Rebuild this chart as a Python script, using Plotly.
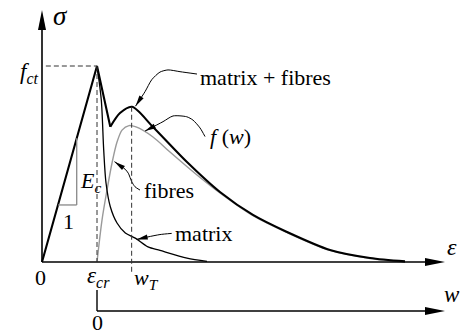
import numpy as np
import plotly.graph_objects as go

# strain in units of eps_cr, stress in units of f_ct
total_x = [0, 1.0, 1.242, 1.418, 1.636, 2.018, 2.636, 3.236, 3.836, 4.455, 5.236, 5.964, 6.6]
total_y = [0, 1.0, 0.690, 0.760, 0.792, 0.689, 0.510, 0.357, 0.240, 0.153, 0.061, 0.020, 0.003]

matrix_x = [1.0, 1.078, 1.122, 1.164, 1.242, 1.364, 1.515, 1.696, 1.927, 2.145, 2.636, 3.0]
matrix_y = [1.0, 0.827, 0.571, 0.403, 0.282, 0.199, 0.148, 0.122, 0.077, 0.059, 0.020, 0.003]

fibres_x = [1.0, 1.091, 1.182, 1.273, 1.364, 1.455, 1.582, 1.709, 2.018, 2.327, 2.818,
            3.236, 3.836, 4.455, 5.236, 5.964, 6.6]
fibres_y = [0.0, 0.214, 0.367, 0.505, 0.612, 0.673, 0.696, 0.689, 0.638, 0.561, 0.444,
            0.352, 0.236, 0.150, 0.059, 0.018, 0.0]

eps_cr = 1.0
w_T = 1.63
f_ct = 1.0

SX, SY = 55.0, 196.0  # pixels per data unit
FONT = "Liberation Serif, Times New Roman, serif"
W, H = 460, 334
OX, OY = 42, 262  # origin in figure pixels


def head(tip, frm, length=11, width=5):
    # filled narrow arrowhead, sized in pixels
    vx = (tip[0] - frm[0]) * SX
    vy = (tip[1] - frm[1]) * SY
    n = np.hypot(vx, vy)
    ux, uy = vx / n, vy / n
    bx, by = -ux * length, -uy * length
    qx, qy = -uy * width / 2, ux * width / 2
    pts = [(0, 0), (bx + qx, by + qy), (bx - qx, by - qy)]
    path = "M" + " L".join(f"{tip[0] + a / SX:.4f},{tip[1] + b / SY:.4f}" for a, b in pts) + " Z"
    return dict(type="path", path=path, xref="x", yref="y",
                fillcolor="black", line=dict(width=0), layer="above")


def seg(x0, y0, x1, y1, color="black", width=1.5, dash=None):
    return dict(type="line", x0=x0, y0=y0, x1=x1, y1=y1, xref="x", yref="y",
                line=dict(color=color, width=width, dash=dash))


fig = go.Figure()

fig.add_trace(go.Scatter(x=fibres_x, y=fibres_y, mode="lines",
                         line=dict(color="#9a9a9a", width=1.4, shape="spline", smoothing=0.8)))
fig.add_trace(go.Scatter(x=matrix_x, y=matrix_y, mode="lines",
                         line=dict(color="black", width=1.3, shape="spline", smoothing=0.8)))
fig.add_trace(go.Scatter(x=total_x[:3], y=total_y[:3], mode="lines",
                         line=dict(color="black", width=2.1)))
fig.add_trace(go.Scatter(x=total_x[2:], y=total_y[2:], mode="lines",
                         line=dict(color="black", width=2.1, shape="spline", smoothing=0.8)))

# leader lines
leaders = [
    ([2.818, 2.509, 2.291, 2.145, 1.995, 1.873, 1.70], [0.959, 0.971, 0.980, 0.969, 0.930, 0.869, 0.795]),
    ([2.964, 2.873, 2.745, 2.631, 2.382, 2.2, 1.873], [0.640, 0.684, 0.724, 0.741, 0.745, 0.716, 0.668]),
    ([1.782, 1.691, 1.631, 1.569, 1.509, 1.318], [0.367, 0.384, 0.410, 0.453, 0.474, 0.512]),
    ([2.358, 2.145, 1.927, 1.722], [0.146, 0.140, 0.128, 0.115]),
]
shapes = []
for lx, ly in leaders:
    fig.add_trace(go.Scatter(x=lx, y=ly, mode="lines",
                             line=dict(color="black", width=1, shape="spline", smoothing=0.7)))
    shapes.append(head((lx[-1], ly[-1]), (lx[-2], ly[-2])))

# axes
ax_end = 7.327
shapes += [
    seg(0, 0, 0, 1.25, width=1.6),
    seg(0, 0, ax_end - 0.3, 0, width=1.6),
    seg(eps_cr, -0.143, eps_cr, -0.25, width=1.4),
    seg(eps_cr, -0.25, ax_end - 0.3, -0.25, width=1.4),
    head((0, 1.286), (0, 1.0), length=20, width=8),
    head((ax_end, 0), (ax_end - 1, 0), length=20, width=8),
    head((ax_end, -0.25), (ax_end - 1, -0.25), length=20, width=8),
    # dashed guides
    seg(0.07, f_ct, eps_cr, f_ct, color="#333", width=1, dash="5px,3px"),
    seg(eps_cr, f_ct, eps_cr, 0, color="#333", width=1, dash="5px,3px"),
    seg(w_T, 0.792, w_T, -0.051, color="#333", width=1, dash="5px,3px"),
    # slope triangle
    seg(0.291, 0.291, 0.631, 0.291, color="#888", width=1.3),
    seg(0.631, 0.291, 0.631, 0.631, color="#888", width=1.3),
]

labels = [
    ("matrix + fibres", 2.836, 0.939, "left", 22),
    ("<i>f</i> (<i>w</i>)", 3.018, 0.638, "left", 22),
    ("fibres", 1.813, 0.367, "left", 22),
    ("matrix", 2.382, 0.143, "left", 22),
    ("<i>E<sub>c</sub></i>", 0.66, 0.408, "left", 22),
    ("1", 0.482, 0.207, "center", 22),
    ("<i>f<sub>ct</sub></i>", -0.02, 0.964, "right", 23),
    ("<i>σ</i>", 0.33, 1.255, "center", 27),
    ("0", -0.02, -0.077, "center", 22),
    ("<i>ε</i>", 7.455, 0.077, "center", 24),
    ("<i>ε<sub>cr</sub></i>", 0.78, -0.077, "left", 23),
    ("<i>w<sub>T</sub></i>", 1.636, -0.087, "left", 22),
    ("0", 1.0, -0.31, "center", 22),
    ("<i>w</i>", 7.455, -0.168, "center", 23),
]
for text, x, y, anchor, size in labels:
    fig.add_annotation(x=x, y=y, text=text, showarrow=False, xanchor=anchor, yanchor="middle",
                       font=dict(family=FONT, size=size, color="black"))

fig.update_layout(
    width=W, height=H, autosize=False,
    margin=dict(l=0, r=0, t=0, b=0, pad=0),
    paper_bgcolor="white", plot_bgcolor="white",
    showlegend=False, shapes=shapes,
    xaxis=dict(range=[-OX / SX, (W - OX) / SX], visible=False, fixedrange=True),
    yaxis=dict(range=[-(H - OY) / SY, OY / SY], visible=False, fixedrange=True),
)

# drop the default page margin so the figure sits at the window corner
fig.write_html("out.html", config={"displayModeBar": False},
               post_script="document.body.style.margin='0';document.body.style.overflow='hidden';")
